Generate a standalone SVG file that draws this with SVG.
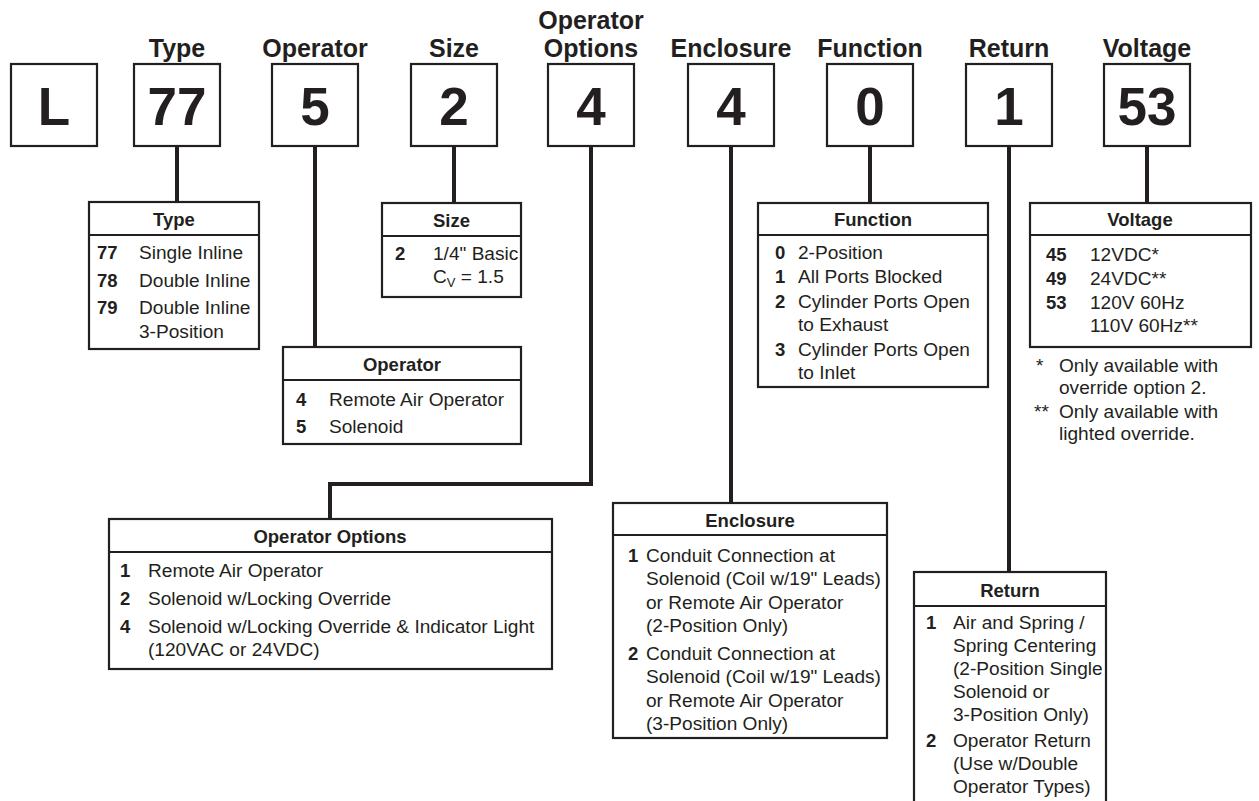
<svg xmlns="http://www.w3.org/2000/svg" width="1259" height="801" viewBox="0 0 1259 801">
<style>
.bg{fill:#ffffff}
.box{fill:#ffffff;stroke:#231f20;stroke-width:2.2}
.div{stroke:#231f20;stroke-width:2.2}
.conn{fill:none;stroke:#231f20;stroke-width:4;stroke-linejoin:miter}
.title{font-family:"Liberation Sans",Arial,sans-serif;font-weight:bold;font-size:25px;fill:#231f20;text-anchor:middle}
.digit{font-family:"Liberation Sans",Arial,sans-serif;font-weight:bold;font-size:53px;fill:#231f20;text-anchor:middle}
.hdr{font-family:"Liberation Sans",Arial,sans-serif;font-weight:bold;font-size:18.5px;fill:#231f20;text-anchor:middle}
.num{font-family:"Liberation Sans",Arial,sans-serif;font-weight:bold;font-size:18.5px;fill:#231f20}
.txt{font-family:"Liberation Sans",Arial,sans-serif;font-size:19.1px;fill:#231f20}
</style>
<rect class="bg" x="0" y="0" width="1259" height="801"/>

<g id="connectors">
<path class="conn" d="M177 146 V203"/>
<path class="conn" d="M315 146 V348"/>
<path class="conn" d="M454 146 V204"/>
<path class="conn" d="M591 146 V484 H330 V520"/>
<path class="conn" d="M731 146 V504"/>
<path class="conn" d="M870 146 V204"/>
<path class="conn" d="M1009 146 V573"/>
<path class="conn" d="M1147 146 V204"/>
</g>

<g id="code-L">
<rect class="box" x="11" y="64" width="86" height="82"/>
<text class="digit" x="54" y="125">L</text>
</g>
<g id="code-type">
<text class="title" x="177" y="57">Type</text>
<rect class="box" x="134" y="64" width="86" height="82"/>
<text class="digit" x="177" y="125">77</text>
</g>
<g id="code-operator">
<text class="title" x="315" y="57">Operator</text>
<rect class="box" x="272" y="64" width="86" height="82"/>
<text class="digit" x="315" y="125">5</text>
</g>
<g id="code-size">
<text class="title" x="454" y="57">Size</text>
<rect class="box" x="411" y="64" width="86" height="82"/>
<text class="digit" x="454" y="125">2</text>
</g>
<g id="code-options">
<text class="title" x="591" y="29">Operator</text>
<text class="title" x="591" y="57">Options</text>
<rect class="box" x="548" y="64" width="86" height="82"/>
<text class="digit" x="591" y="125">4</text>
</g>
<g id="code-enclosure">
<text class="title" x="731" y="57">Enclosure</text>
<rect class="box" x="688" y="64" width="86" height="82"/>
<text class="digit" x="731" y="125">4</text>
</g>
<g id="code-function">
<text class="title" x="870" y="57">Function</text>
<rect class="box" x="827" y="64" width="86" height="82"/>
<text class="digit" x="870" y="125">0</text>
</g>
<g id="code-return">
<text class="title" x="1009" y="57">Return</text>
<rect class="box" x="966" y="64" width="86" height="82"/>
<text class="digit" x="1009" y="125">1</text>
</g>
<g id="code-voltage">
<text class="title" x="1147" y="57">Voltage</text>
<rect class="box" x="1104" y="64" width="86" height="82"/>
<text class="digit" x="1147" y="125">53</text>
</g>

<g id="table-type">
<rect class="box" x="89" y="202" width="170" height="147"/>
<line class="div" x1="89" y1="235" x2="259" y2="235"/>
<text class="hdr" x="174" y="226">Type</text>
<text class="num" x="97" y="259">77</text><text class="txt" x="139" y="259">Single Inline</text>
<text class="num" x="97" y="287">78</text><text class="txt" x="139" y="287">Double Inline</text>
<text class="num" x="97" y="314">79</text><text class="txt" x="139" y="314">Double Inline</text>
<text class="txt" x="139" y="338">3-Position</text>
</g>

<g id="table-size">
<rect class="box" x="382" y="203" width="139" height="94"/>
<line class="div" x1="382" y1="236" x2="521" y2="236"/>
<text class="hdr" x="451.5" y="227">Size</text>
<text class="num" x="395" y="260">2</text><text class="txt" x="433" y="260">1/4" Basic</text>
<text class="txt" x="433" y="283">C<tspan font-size="13" dy="4">V</tspan><tspan dy="-4"> = 1.5</tspan></text>
</g>

<g id="table-operator">
<rect class="box" x="283" y="347" width="238" height="97"/>
<line class="div" x1="283" y1="380" x2="521" y2="380"/>
<text class="hdr" x="402" y="371">Operator</text>
<text class="num" x="296" y="406">4</text><text class="txt" x="329" y="406">Remote Air Operator</text>
<text class="num" x="296" y="433">5</text><text class="txt" x="329" y="433">Solenoid</text>
</g>

<g id="table-options">
<rect class="box" x="109" y="519" width="443" height="150"/>
<line class="div" x1="109" y1="552" x2="552" y2="552"/>
<text class="hdr" x="330" y="543">Operator Options</text>
<text class="num" x="120" y="577">1</text><text class="txt" x="148" y="577">Remote Air Operator</text>
<text class="num" x="120" y="605">2</text><text class="txt" x="148" y="605">Solenoid w/Locking Override</text>
<text class="num" x="120" y="633">4</text><text class="txt" x="148" y="633">Solenoid w/Locking Override &amp; Indicator Light</text>
<text class="txt" x="148" y="656">(120VAC or 24VDC)</text>
</g>

<g id="table-enclosure">
<rect class="box" x="613" y="503" width="274" height="235"/>
<line class="div" x1="613" y1="535" x2="887" y2="535"/>
<text class="hdr" x="750" y="527">Enclosure</text>
<text class="num" x="628" y="562">1</text><text class="txt" x="646" y="562">Conduit Connection at</text>
<text class="txt" x="646" y="585">Solenoid (Coil w/19" Leads)</text>
<text class="txt" x="646" y="609">or Remote Air Operator</text>
<text class="txt" x="646" y="632">(2-Position Only)</text>
<text class="num" x="628" y="660">2</text><text class="txt" x="646" y="660">Conduit Connection at</text>
<text class="txt" x="646" y="683">Solenoid (Coil w/19" Leads)</text>
<text class="txt" x="646" y="707">or Remote Air Operator</text>
<text class="txt" x="646" y="730">(3-Position Only)</text>
</g>

<g id="table-function">
<rect class="box" x="758" y="203" width="230" height="184"/>
<line class="div" x1="758" y1="235" x2="988" y2="235"/>
<text class="hdr" x="873" y="226">Function</text>
<text class="num" x="775" y="259">0</text><text class="txt" x="798" y="259">2-Position</text>
<text class="num" x="775" y="283">1</text><text class="txt" x="798" y="283">All Ports Blocked</text>
<text class="num" x="775" y="308">2</text><text class="txt" x="798" y="308">Cylinder Ports Open</text>
<text class="txt" x="798" y="331">to Exhaust</text>
<text class="num" x="775" y="356">3</text><text class="txt" x="798" y="356">Cylinder Ports Open</text>
<text class="txt" x="798" y="379">to Inlet</text>
</g>

<g id="table-return">
<rect class="box" x="914" y="572" width="192" height="260"/>
<line class="div" x1="914" y1="606" x2="1106" y2="606"/>
<text class="hdr" x="1010" y="597">Return</text>
<text class="num" x="926" y="629">1</text><text class="txt" x="953" y="629">Air and Spring /</text>
<text class="txt" x="953" y="652">Spring Centering</text>
<text class="txt" x="953" y="675">(2-Position Single</text>
<text class="txt" x="953" y="698">Solenoid or</text>
<text class="txt" x="953" y="721">3-Position Only)</text>
<text class="num" x="926" y="747">2</text><text class="txt" x="953" y="747">Operator Return</text>
<text class="txt" x="953" y="770">(Use w/Double</text>
<text class="txt" x="953" y="793">Operator Types)</text>
</g>

<g id="table-voltage">
<rect class="box" x="1030" y="203" width="221" height="144"/>
<line class="div" x1="1030" y1="235" x2="1251" y2="235"/>
<text class="hdr" x="1140" y="226">Voltage</text>
<text class="num" x="1046" y="261">45</text><text class="txt" x="1090" y="261">12VDC*</text>
<text class="num" x="1046" y="285">49</text><text class="txt" x="1090" y="285">24VDC**</text>
<text class="num" x="1046" y="309">53</text><text class="txt" x="1090" y="309">120V 60Hz</text>
<text class="txt" x="1090" y="332">110V 60Hz**</text>
<text class="txt" x="1036" y="372">*</text><text class="txt" x="1059" y="372">Only available with</text>
<text class="txt" x="1059" y="394">override option 2.</text>
<text class="txt" x="1034" y="418">**</text><text class="txt" x="1059" y="418">Only available with</text>
<text class="txt" x="1059" y="440">lighted override.</text>
</g>
</svg>
